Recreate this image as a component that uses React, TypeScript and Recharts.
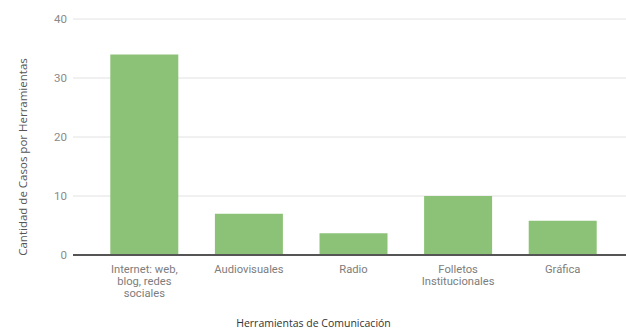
import { BarChart, Bar, XAxis, YAxis, CartesianGrid } from "recharts";

const categories = [
  "Internet: web, blog, redes sociales",
  "Audiovisuales",
  "Radio",
  "Folletos Institucionales",
  "Gráfica",
];
const casos = [34, 7, 3.7, 10, 5.8];
const tickLines = [
  ["Internet: web,", "blog, redes", "sociales"],
  ["Audiovisuales"],
  ["Radio"],
  ["Folletos", "Institucionales"],
  ["Gráfica"],
];
const yTicks = [0, 10, 20, 30, 40];

const data = categories.map((name, i) => ({ name, casos: casos[i] }));

const FONT = "Roboto, 'Liberation Sans', sans-serif";

// category labels are pre-wrapped, one tspan per line
function CategoryTick({ x, y, index }: any) {
  const lines = tickLines[index] || [];
  return (
    <text x={x} y={y} textAnchor="middle" fill="#7d7d7d" fontSize={11.2} fontFamily={FONT}>
      {lines.map((l, i) => (
        <tspan key={i} x={x} dy={i === 0 ? 18 : 12}>
          {l}
        </tspan>
      ))}
    </text>
  );
}

export default function App() {
  return (
    <div style={{ position: "fixed", left: 0, top: 0, background: "#fff" }}>
      <BarChart
        width={626}
        height={330}
        data={data}
        margin={{ top: 19, right: 0, bottom: 0, left: 0 }}
        barCategoryGap="17.5%"
      >
        <CartesianGrid vertical={false} stroke="#e2e2e2" />
        <XAxis
          dataKey="name"
          interval={0}
          height={75}
          tickSize={0}
          tickMargin={0}
          tick={<CategoryTick />}
          axisLine={{ stroke: "#555", strokeWidth: 2 }}
          tickLine={false}
          padding={{ left: 19, right: 11 }}
          label={{
            content: ({ viewBox }: any) => (
              <text
                x={viewBox.x + viewBox.width / 2 - 36}
                y={viewBox.y + 72}
                textAnchor="middle"
                fill="#333"
                fontSize={10.5}
                fontFamily="'Open Sans', sans-serif"
              >
                Herramientas de Comunicación
              </text>
            ),
          }}
        />
        <YAxis
          domain={[0, 40]}
          ticks={yTicks}
          width={73}
          tickSize={0}
          tickMargin={6}
          axisLine={false}
          tickLine={false}
          tick={{ fill: "#8a8a8a", fontSize: 11.5, fontFamily: FONT }}
          label={{
            content: ({ viewBox }: any) => {
              const cx = viewBox.x + 22;
              const cy = viewBox.y + viewBox.height / 2 + 20;
              return (
                <text
                  x={cx}
                  y={cy}
                  transform={`rotate(-90 ${cx} ${cy})`}
                  textAnchor="middle"
                  dominantBaseline="central"
                  fill="#555"
                  fontSize={11.5}
                  fontFamily="'Open Sans', sans-serif"
                >
                  Cantidad de Casos por Herramientas
                </text>
              );
            },
          }}
        />
        <Bar dataKey="casos" fill="#8cc277" isAnimationActive={false} />
      </BarChart>
    </div>
  );
}
